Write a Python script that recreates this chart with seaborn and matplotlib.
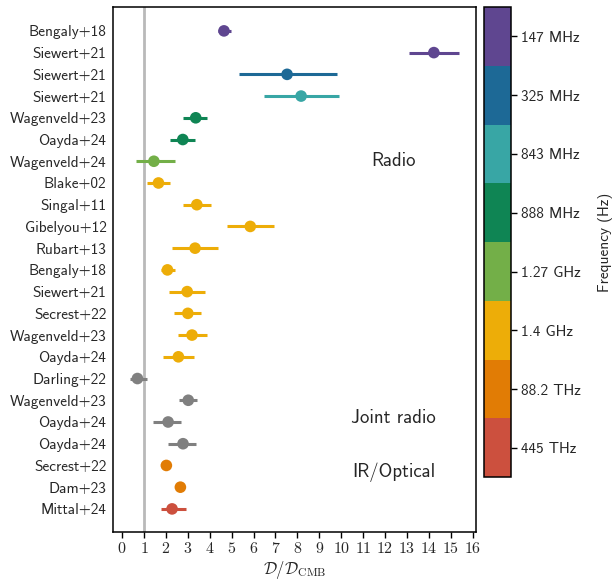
import numpy as np
import pandas as pd
import matplotlib
matplotlib.use("Agg")
import matplotlib.pyplot as plt
from matplotlib.colors import ListedColormap, BoundaryNorm
from matplotlib.cm import ScalarMappable
import seaborn as sns

# Dipole amplitude measurements relative to the CMB expectation
studies = ["Bengaly+18", "Siewert+21", "Siewert+21", "Siewert+21", "Wagenveld+23",
           "Oayda+24", "Wagenveld+24", "Blake+02", "Singal+11", "Gibelyou+12",
           "Rubart+13", "Bengaly+18", "Siewert+21", "Secrest+22", "Wagenveld+23",
           "Oayda+24", "Darling+22", "Wagenveld+23", "Oayda+24", "Oayda+24",
           "Secrest+22", "Dam+23", "Mittal+24"]
ratio = [4.65, 14.23, 7.53, 8.17, 3.36, 2.77, 1.45, 1.66, 3.41, 5.85,
         3.33, 2.07, 2.97, 3.00, 3.19, 2.57, 0.70, 3.02, 2.10, 2.78,
         2.02, 2.66, 2.28]
err_lo = [0.28, 1.14, 2.18, 1.71, 0.58, 0.57, 0.81, 0.53, 0.63, 1.06,
          1.04, 0.31, 0.84, 0.61, 0.65, 0.70, 0.32, 0.41, 0.69, 0.67,
          0.10, 0.10, 0.50]
err_hi = [0.32, 1.14, 2.28, 1.72, 0.53, 0.57, 0.98, 0.54, 0.64, 1.07,
          1.04, 0.33, 0.83, 0.60, 0.69, 0.70, 0.43, 0.42, 0.58, 0.60,
          0.10, 0.10, 0.63]
band = ["147 MHz", "147 MHz", "325 MHz", "843 MHz", "888 MHz", "888 MHz",
        "1.27 GHz", "1.4 GHz", "1.4 GHz", "1.4 GHz", "1.4 GHz", "1.4 GHz",
        "1.4 GHz", "1.4 GHz", "1.4 GHz", "1.4 GHz", "Joint", "Joint", "Joint",
        "Joint", "88.2 THz", "88.2 THz", "445 THz"]

freq_labels = ["147 MHz", "325 MHz", "843 MHz", "888 MHz", "1.27 GHz",
               "1.4 GHz", "88.2 THz", "445 THz"]
freq_colors = ["#5F4690", "#1D6996", "#38A6A5", "#0F8554", "#73AF48",
               "#EDAD08", "#E17C05", "#CC503E"]
joint_color = "#808080"

group_text = ["Radio", "Joint radio", "IR/Optical"]
group_row = [6.0, 17.8, 20.3]

sns.set_theme(style="ticks")
plt.rcParams["mathtext.fontset"] = "cm"
plt.rcParams["font.family"] = ["cmss10", "DejaVu Sans"]
plt.rcParams["axes.unicode_minus"] = False

df = pd.DataFrame({"study": studies, "ratio": ratio, "lo": err_lo,
                   "hi": err_hi, "band": band})
df["row"] = np.arange(len(df))

palette = dict(zip(freq_labels, freq_colors))
palette["Joint"] = joint_color

fig = plt.figure(figsize=(6.15, 5.82), dpi=100)
ax = fig.add_axes([0.1843, 0.0864, 0.5892, 0.9016])

ax.axvline(1.0, color="gray", alpha=0.55, lw=2, zorder=1)

for _, r in df.iterrows():
    ax.errorbar(r["ratio"], r["row"], xerr=[[r["lo"]], [r["hi"]]],
                fmt="none", ecolor=palette[r["band"]], elinewidth=2.2,
                capsize=0, zorder=2)

sns.scatterplot(data=df, x="ratio", y="row", hue="band", palette=palette,
                s=70, edgecolor="none", legend=False, ax=ax, zorder=3)

ax.set_ylim(23.05, -1.1)
ax.set_xlim(-0.4, 16.14)
ax.set_yticks(df["row"])
ax.set_yticklabels(df["study"], fontsize=11)
ax.tick_params(axis="y", length=0, pad=5)
xt = np.arange(0, 17)
ax.set_xticks(xt)
ax.set_xticklabels([f"${v}$" for v in xt], fontsize=11.5)
ax.tick_params(axis="x", length=4, width=1, color="black", pad=3)
ax.set_xlabel(r"$\mathcal{D}/\mathcal{D}_{\rm CMB}$", fontsize=12, labelpad=2)
ax.set_ylabel("")
for sp in ax.spines.values():
    sp.set_color("black")
    sp.set_linewidth(1.1)

for t, yr in zip(group_text, group_row):
    ax.text(12.4, yr, t, ha="center", va="center", fontsize=13.5)

# Discrete frequency colour bar
cax = fig.add_axes([0.7875, 0.180, 0.0429, 0.808])
cmap = ListedColormap(freq_colors)
norm = BoundaryNorm(np.arange(len(freq_colors) + 1), cmap.N)
cb = fig.colorbar(ScalarMappable(norm=norm, cmap=cmap), cax=cax,
                  ticks=np.arange(len(freq_colors)) + 0.5)
cb.minorticks_off()
cb.ax.set_yticklabels(freq_labels, fontsize=11)
cb.ax.invert_yaxis()
cb.ax.tick_params(length=4, width=1, color="black")
cb.outline.set_edgecolor("black")
cb.outline.set_linewidth(1.1)
cb.set_label("Frequency (Hz)", fontsize=11, labelpad=12)

fig.savefig("out.png", dpi=100)
